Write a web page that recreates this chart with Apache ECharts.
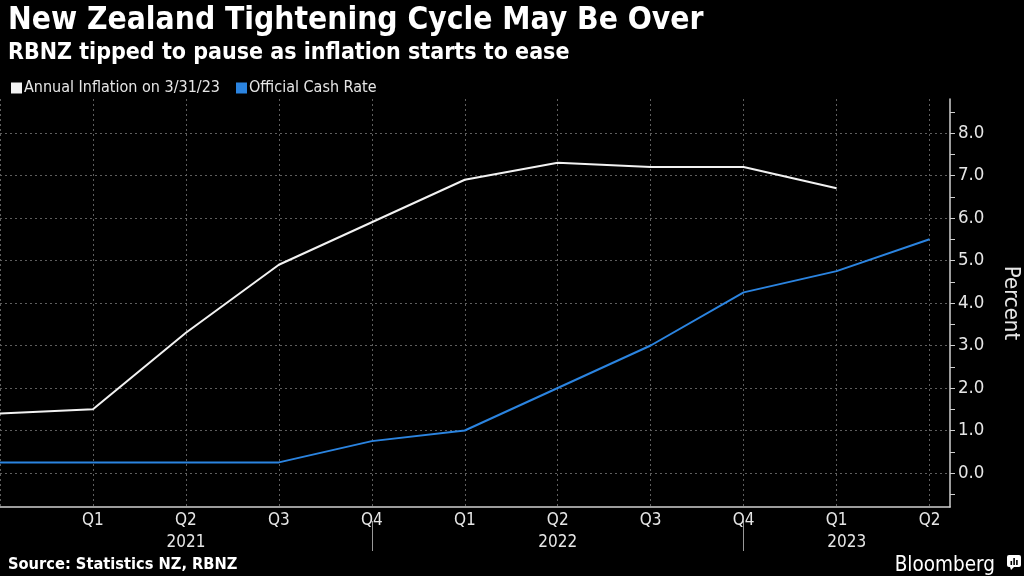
<!DOCTYPE html>
<html>
<head>
<meta charset="utf-8">
<script src="https://cdn.jsdelivr.net/npm/echarts@6/dist/echarts.min.js"></script>
<style>
  html, body { margin: 0; padding: 0; background: #000; }
  #chart { width: 1024px; height: 576px; }
</style>
</head>
<body>
<div id="chart"></div>
<script>
// ---- data ----
const quarters = ['Q4 2020','Q1 2021','Q2 2021','Q3 2021','Q4 2021','Q1 2022','Q2 2022','Q3 2022','Q4 2022','Q1 2023','Q2 2023'];
const inflation = [1.4, 1.5, 3.3, 4.9, 5.9, 6.9, 7.3, 7.2, 7.2, 6.7];
const cashRate = [0.25, 0.25, 0.25, 0.25, 0.75, 1.0, 2.0, 3.0, 4.25, 4.75, 5.5];
const quarterTickLabels = ['', 'Q1', 'Q2', 'Q3', 'Q4', 'Q1', 'Q2', 'Q3', 'Q4', 'Q1', 'Q2'];
const yearLabels = ['2021', '2022', '2023'];
const yearStarts = [0, 4, 8];
const yTickValues = [0, 1, 2, 3, 4, 5, 6, 7, 8];
const yHalfTicks = [-0.5, 0, 0.5, 1, 1.5, 2, 2.5, 3, 3.5, 4, 4.5, 5, 5.5, 6, 6.5, 7, 7.5, 8, 8.5];

const X_MAX = 10.22;
const Y_MIN = -0.8, Y_MAX = 8.8;
const FONT = '"DejaVu Sans Condensed", "Liberation Sans Narrow", Roboto, sans-serif';
const FONT_B = '"DejaVu Sans Condensed", "DejaVu Sans", Roboto, sans-serif';

const yearEnds = yearStarts.slice(1).concat([X_MAX]);
const yearCenters = yearStarts.map((s, i) => (s + yearEnds[i]) / 2);

const inflData = inflation.map((v, i) => [i, v]);
const cashData = cashRate.map((v, i) => [i, v]);

const gridLine = { color: '#5e5e5e', type: [2, 3], width: 1 };

const chart = echarts.init(document.getElementById('chart'));
chart.setOption({
  backgroundColor: '#000',
  animation: false,
  title: [
    { text: 'New Zealand Tightening Cycle May Be Over', left: 3, top: 0,
      textStyle: { color: '#fff', fontSize: 31.5, fontWeight: 'bold', fontFamily: FONT_B } },
    { text: 'RBNZ tipped to pause as inflation starts to ease', left: 3, top: 37,
      textStyle: { color: '#fff', fontSize: 23, fontWeight: 'bold', fontFamily: FONT_B } },
    { text: 'Source: Statistics NZ, RBNZ', left: 3, top: 552,
      textStyle: { color: '#fff', fontSize: 16.3, fontWeight: 'bold', fontFamily: FONT_B } },
    { text: 'Bloomberg', right: 24, top: 550,
      textStyle: { color: '#fff', fontSize: 20.5, fontWeight: 'normal', fontFamily: FONT } }
  ],
  graphic: [
    { type: 'group', right: 3, top: 555, children: [
      { type: 'rect', shape: { x: 0, y: 0, width: 14, height: 12, r: 2 }, style: { fill: '#fff' } },
      { type: 'polygon', shape: { points: [[3, 12], [7, 12], [4, 15]] }, style: { fill: '#fff' } },
      { type: 'rect', shape: { x: 3.5, y: 6, width: 1.6, height: 4 }, style: { fill: '#000' } },
      { type: 'rect', shape: { x: 6.3, y: 3, width: 1.6, height: 7 }, style: { fill: '#000' } },
      { type: 'rect', shape: { x: 9.1, y: 5, width: 1.6, height: 5 }, style: { fill: '#000' } }
    ]}
  ],
  legend: {
    left: 6, top: 75, itemWidth: 11, itemHeight: 11, itemGap: 16, icon: 'rect',
    textStyle: { color: '#e6e6e6', fontSize: 16, fontFamily: FONT, padding: [0, 0, 0, -3] },
    data: ['Annual Inflation on 3/31/23', 'Official Cash Rate']
  },
  grid: { left: 0, top: 99, width: 950, height: 408, containLabel: false, outerBoundsMode: 'none' },
  xAxis: [
    {
      type: 'value', min: 0, max: X_MAX, interval: 1,
      axisLine: { show: true, onZero: false, lineStyle: { color: '#cfcfcf', width: 1.5 } },
      axisTick: { show: false },
      axisLabel: {
        customValues: [1, 2, 3, 4, 5, 6, 7, 8, 9, 10],
        formatter: v => quarterTickLabels[Math.round(v)] || '',
        color: '#e6e6e6', fontSize: 17, fontFamily: FONT, margin: 5
      },
      splitLine: { show: true, showMaxLine: false, lineStyle: gridLine }
    },
    {
      type: 'value', min: 0, max: X_MAX, position: 'bottom', offset: 14,
      axisLine: { show: false, onZero: false },
      axisTick: { show: true, customValues: yearStarts.slice(1), length: 30, lineStyle: { color: '#999', width: 1 } },
      axisLabel: {
        customValues: yearCenters,
        formatter: v => { const i = yearCenters.findIndex(c => Math.abs(c - v) < 1e-6); return i >= 0 ? yearLabels[i] : ''; },
        color: '#e6e6e6', fontSize: 17, fontFamily: FONT, margin: 13
      },
      splitLine: { show: false }
    }
  ],
  yAxis: [
    {
      type: 'value', position: 'right', min: Y_MIN, max: Y_MAX,
      name: 'Percent', nameLocation: 'middle', nameRotate: -90, nameGap: 50,
      nameTextStyle: { color: '#e6e6e6', fontSize: 22, fontFamily: FONT },
      axisLine: { show: true, onZero: false, lineStyle: { color: '#cfcfcf', width: 1.5 } },
      axisTick: { show: true, customValues: yHalfTicks, length: 5, lineStyle: { color: '#cfcfcf', width: 1 } },
      axisLabel: {
        customValues: yTickValues,
        formatter: v => v.toFixed(1),
        color: '#e6e6e6', fontSize: 18.5, fontFamily: FONT, margin: 8
      },
      splitLine: { show: false }
    },
    {
      type: 'value', position: 'left', min: Y_MIN, max: Y_MAX,
      axisLine: { show: false },
      axisTick: { show: false, customValues: yTickValues },
      axisLabel: { show: false },
      splitLine: { show: true, lineStyle: gridLine }
    }
  ],
  series: [
    { name: 'Annual Inflation on 3/31/23', type: 'line', data: inflData, symbol: 'none',
      itemStyle: { color: '#f2f2f2' }, lineStyle: { color: '#f2f2f2', width: 2 } },
    { name: 'Official Cash Rate', type: 'line', data: cashData, symbol: 'none',
      itemStyle: { color: '#2b84e0' }, lineStyle: { color: '#2b84e0', width: 2 } }
  ]
});
</script>
</body>
</html>
